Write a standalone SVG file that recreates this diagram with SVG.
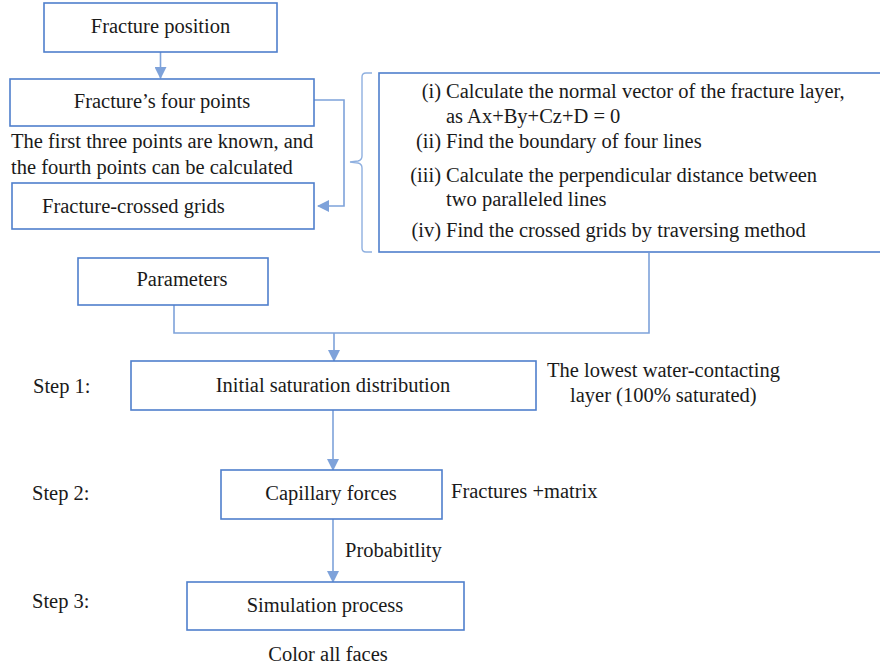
<svg xmlns="http://www.w3.org/2000/svg" width="880" height="669" viewBox="0 0 880 669">
<defs>
<style>
text{font-family:"Liberation Serif","Times New Roman",serif;font-size:20.5px;fill:#1a1a1a}
.box{fill:#fff;stroke:#4f7fcc;stroke-width:1.6}
.con{fill:none;stroke:#7ea2da;stroke-width:1.6}
.brace{fill:none;stroke:#8fb0e0;stroke-width:1.4}
.c{text-anchor:middle}
.r{text-anchor:end}
</style>
<marker id="ah" viewBox="0 0 12 12" refX="11" refY="6" markerWidth="12" markerHeight="12" markerUnits="userSpaceOnUse" orient="auto">
<path d="M0,0 L12,6 L0,12 Z" fill="#7ea2da"/>
</marker>
</defs>
<g id="connectors">
<path class="con" d="M160.5,52 V78" marker-end="url(#ah)"/>
<path class="con" d="M314,100 H344 V206 H318" marker-end="url(#ah)"/>
<path class="con" d="M174,305 V333 H649 V253"/>
<path class="con" d="M334,333 V361" marker-end="url(#ah)"/>
<path class="con" d="M333,410 V470" marker-end="url(#ah)"/>
<path class="con" d="M333,519 V582" marker-end="url(#ah)"/>
</g>
<g id="fracture-position">
<rect class="box" x="44" y="3" width="233" height="49"/>
<text class="c" x="160.5" y="33" font-family="Liberation Serif, serif">Fracture position</text>
</g>
<g id="fracture-four-points">
<rect class="box" x="10" y="79" width="304" height="47"/>
<text class="c" x="162" y="108">Fracture’s four points</text>
</g>
<g id="note-points">
<text x="11" y="148">The first three points are known, and</text>
<text x="11" y="174">the fourth points can be calculated</text>
</g>
<g id="fracture-crossed-grids">
<rect class="box" x="12" y="183" width="302" height="46"/>
<text x="42" y="213">Fracture-crossed grids</text>
</g>
<g id="brace">
<path class="brace" d="M372,73 H366 Q362,73 362,77 V156 Q362,160 358,161 L350,162 L358,163 Q362,164 362,168 V248 Q362,252 366,252 H372"/>
</g>
<g id="steps-box">
<rect class="box" x="379" y="73" width="505" height="179"/>
<text class="r" x="441" y="98">(i)</text>
<text x="446" y="98">Calculate the normal vector of the fracture layer,</text>
<text x="446" y="123">as Ax+By+Cz+D = 0</text>
<text class="r" x="441" y="148">(ii)</text>
<text x="446" y="148">Find the boundary of four lines</text>
<text class="r" x="441" y="182">(iii)</text>
<text x="446" y="182">Calculate the perpendicular distance between</text>
<text x="446" y="206">two paralleled lines</text>
<text class="r" x="441" y="237">(iv)</text>
<text x="446" y="237">Find the crossed grids by traversing method</text>
</g>
<g id="parameters">
<rect class="box" x="78" y="258" width="190" height="47"/>
<text class="c" x="182" y="286">Parameters</text>
</g>
<g id="step1">
<text x="33" y="393">Step 1:</text>
<rect class="box" x="131" y="361" width="405" height="49"/>
<text class="c" x="333" y="392">Initial saturation distribution</text>
<text x="547" y="377">The lowest water-contacting</text>
<text x="570" y="402">layer (100% saturated)</text>
</g>
<g id="step2">
<text x="32" y="500">Step 2:</text>
<rect class="box" x="221" y="470" width="221" height="49"/>
<text class="c" x="331" y="500">Capillary forces</text>
<text x="451" y="498">Fractures +matrix</text>
</g>
<g id="probability-label">
<text x="345" y="557">Probabitlity</text>
</g>
<g id="step3">
<text x="32" y="608">Step 3:</text>
<rect class="box" x="187" y="582" width="277" height="48"/>
<text class="c" x="325" y="612">Simulation process</text>
<text class="c" x="328" y="661">Color all faces</text>
</g>
</svg>
